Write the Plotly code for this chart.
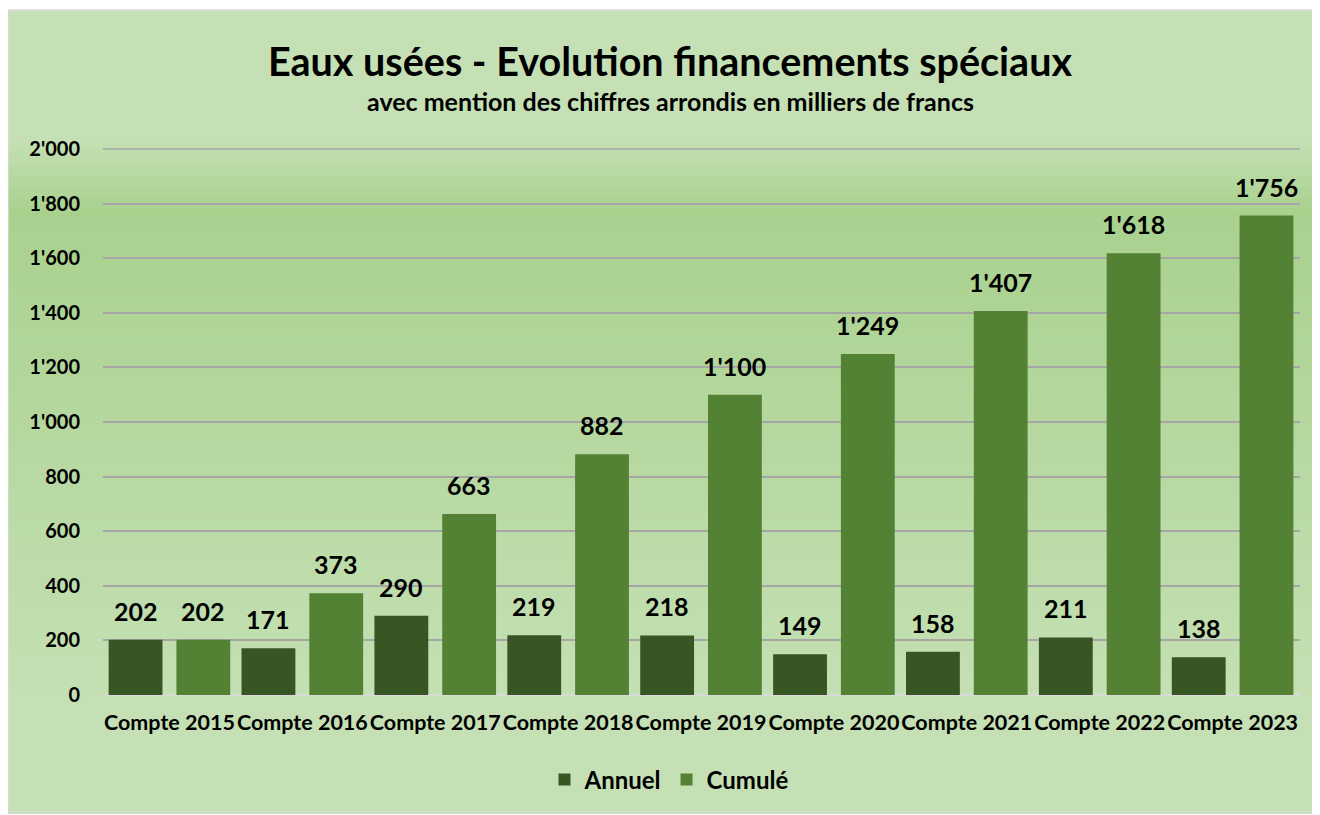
"""Eaux usées - financements spéciaux
"""

import plotly.graph_objects as go

# données (milliers de francs)
categories = ["Compte 2015", "Compte 2016", "Compte 2017", "Compte 2018", "Compte 2019",
              "Compte 2020", "Compte 2021", "Compte 2022", "Compte 2023"]
annuel = [202, 171, 290, 219, 218, 149, 158, 211, 138]
cumule = [202, 373, 663, 882, 1100, 1249, 1407, 1618, 1756]

W, H = 1320, 815
OFF = 8  # décalage de la page
L, R, T, B = 103 - OFF, W - (1300 - OFF), 149 - OFF, H - (695 - OFF)
FONT = "Lato"
BAR_W = 0.405
OFFSETS = {"Annuel": -0.4575, "Cumulé": 0.0525}


def px_x(x):
    return (x - OFF - L) / (W - L - R)


def px_y(y):
    return (H - B - (y - OFF)) / (H - T - B)


def hex2rgb(h):
    h = h.lstrip("#")
    return [int(h[i:i + 2], 16) for i in (0, 2, 4)]


def grad_color(y, stops):
    for (y0, c0), (y1, c1) in zip(stops, stops[1:]):
        if y0 <= y <= y1:
            t = (y - y0) / (y1 - y0) if y1 > y0 else 0
            a, b = hex2rgb(c0), hex2rgb(c1)
            return "rgb(%d,%d,%d)" % tuple(round(a[i] + (b[i] - a[i]) * t) for i in range(3))
    return stops[-1][1]


# fond dégradé
stops = [(10, "#C5E0B4"), (140, "#C5E0B4"), (212, "#A9D18E"), (700, "#C5E0B4"), (812, "#C5E0B4")]
shapes = []
step = 3
for y in range(10, 812, step):
    shapes.append(dict(type="rect", xref="paper", yref="paper", layer="below",
                       x0=px_x(8), x1=px_x(1318), y0=px_y(y + step), y1=px_y(y),
                       fillcolor=grad_color(y + step / 2, stops), line_width=0))
shapes.append(dict(type="rect", xref="paper", yref="paper", layer="below",
                   x0=px_x(8), x1=px_x(1318), y0=px_y(812), y1=px_y(10),
                   line=dict(color="#D9D9D9", width=1.5)))
# ligne de grille du haut (2'000)
shapes.append(dict(type="line", xref="paper", yref="paper", layer="below",
                   x0=0, x1=1, y0=1, y1=1, line=dict(color="#A6A6A6", width=1.5)))

bold = dict(family=FONT, color="black", weight="bold")

fig = go.Figure()
fig.add_trace(go.Bar(x=categories, y=annuel, name="Annuel", marker_color="#375623",
                     width=BAR_W, offset=OFFSETS["Annuel"]))
fig.add_trace(go.Bar(x=categories, y=cumule, name="Cumulé", marker_color="#548235",
                     width=BAR_W, offset=OFFSETS["Cumulé"]))
fig.update_traces(marker_line_width=0)

# étiquettes de valeurs
annotations = []
for name, values in (("Annuel", annuel), ("Cumulé", cumule)):
    for i, v in enumerate(values):
        annotations.append(dict(x=i + OFFSETS[name] + BAR_W / 2, y=v, xref="x", yref="y",
                                text=f"{v:,}".replace(",", "'"), showarrow=False,
                                yanchor="bottom", yshift=12, font=dict(bold, size=25)))
annotations.append(dict(text="avec mention des chiffres arrondis en milliers de francs",
                        xref="paper", yref="paper", x=px_x(670), y=px_y(101),
                        showarrow=False, font=dict(bold, size=25), yanchor="middle"))

fig.update_layout(
    width=W, height=H,
    margin=dict(l=L, r=R, t=T, b=B, autoexpand=False),
    separators=".'",
    paper_bgcolor="white", plot_bgcolor="rgba(0,0,0,0)",
    font=dict(family=FONT, color="black"),
    barmode="group",
    shapes=shapes,
    annotations=annotations,
    title=dict(text="Eaux usées - Evolution financements spéciaux",
               x=(670 - OFF) / W, xref="container", xanchor="center",
               y=(H - (62 - OFF)) / H, yref="container", yanchor="middle",
               font=dict(bold, size=39.5)),
    xaxis=dict(tickfont=dict(bold, size=21.5), showgrid=False, ticks="", tickangle=0,
               ticklabelstandoff=12, showline=False),
    yaxis=dict(range=[0, 2000], tick0=0, dtick=200, tickformat=",", tickfont=dict(bold, size=20),
               gridcolor="#A6A6A6", gridwidth=1.5, zeroline=True, zerolinecolor="#D9D9D9",
               zerolinewidth=2, ticklabelstandoff=22),
    legend=dict(orientation="h", x=px_x(669), xanchor="center", xref="paper",
                y=px_y(780), yanchor="middle", font=dict(bold, size=24),
                bgcolor="rgba(0,0,0,0)", itemwidth=30, traceorder="normal"),
)

fig.write_html("out.html")
